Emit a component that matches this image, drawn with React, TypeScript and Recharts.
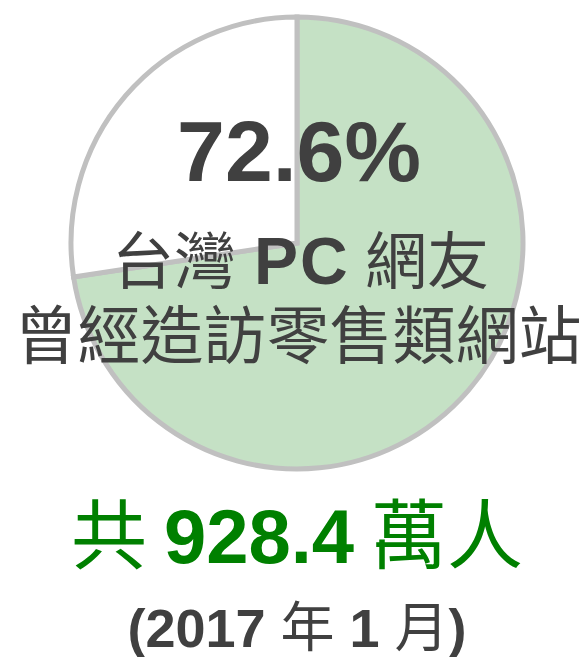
import { PieChart, Pie, Cell } from 'recharts';

const segmentNames = ['曾造訪零售類網站', '未造訪'];
const segmentValues = [72.6, 27.4];
const segmentColors = ['#c5e1c5', '#ffffff'];

const headline = '72.6%';
const subtitleParts = ['台灣', 'PC', '網友'];
const subtitleLine2 = '曾經造訪零售類網站';
const totalParts = ['共 ', '928.4', ' 萬人'];
const dateLabel = ['(2017 ', '年', ' 1 ', '月', ')'];

const data = segmentNames.map((name, i) => ({ name, value: segmentValues[i] }));

const LATIN = '"Liberation Sans", Arial, sans-serif';
const CJK = '"Noto Sans CJK TC", "Noto Sans CJK SC", sans-serif';

export default function App() {
  return (
    <div style={{ position: 'absolute', left: 0, top: 0, width: 588, height: 657, background: '#fff' }}>
      <PieChart width={588} height={657} margin={{ top: 0, right: 0, bottom: 0, left: 0 }}>
        <Pie
          data={data}
          dataKey="value"
          cx={297}
          cy={243}
          outerRadius={226}
          startAngle={90}
          endAngle={-270}
          stroke="#c0c0c0"
          strokeWidth={5}
          isAnimationActive={false}
        >
          {data.map((d, i) => (
            <Cell key={d.name} fill={segmentColors[i]} />
          ))}
        </Pie>
      </PieChart>

      {/* text overlay on top of the pie */}
      <svg width={588} height={657} style={{ position: 'absolute', left: 0, top: 0, pointerEvents: 'none' }}>
        <text x={299} y={181} textAnchor="middle" fill="#404040" fontFamily={LATIN} fontWeight="bold" fontSize={86}>
          {headline}
        </text>
        <text y={284} fill="#404040" fontFamily={CJK} fontSize={62}>
          <tspan x={112}>{subtitleParts[0]}</tspan>
          <tspan x={254} fontFamily={LATIN} fontWeight="bold" fontSize={66} letterSpacing={2}>{subtitleParts[1]}</tspan>
          <tspan x={365}>{subtitleParts[2]}</tspan>
        </text>
        <text x={298} y={358} textAnchor="middle" fill="#404040" fontFamily={CJK} fontSize={63}>
          {subtitleLine2}
        </text>
        <text x={297} y={563} textAnchor="middle" fill="#008000" fontFamily={CJK} fontSize={76}>
          <tspan>{totalParts[0]}</tspan>
          <tspan fontFamily={LATIN} fontWeight="bold">{totalParts[1]}</tspan>
          <tspan>{totalParts[2]}</tspan>
        </text>
        <text x={297} y={647} textAnchor="middle" fill="#404040" fontFamily={LATIN} fontWeight="bold" fontSize={54}>
          <tspan>{dateLabel[0]}</tspan>
          <tspan fontFamily={CJK} fontWeight="normal">{dateLabel[1]}</tspan>
          <tspan>{dateLabel[2]}</tspan>
          <tspan fontFamily={CJK} fontWeight="normal">{dateLabel[3]}</tspan>
          <tspan>{dateLabel[4]}</tspan>
        </text>
      </svg>
    </div>
  );
}
